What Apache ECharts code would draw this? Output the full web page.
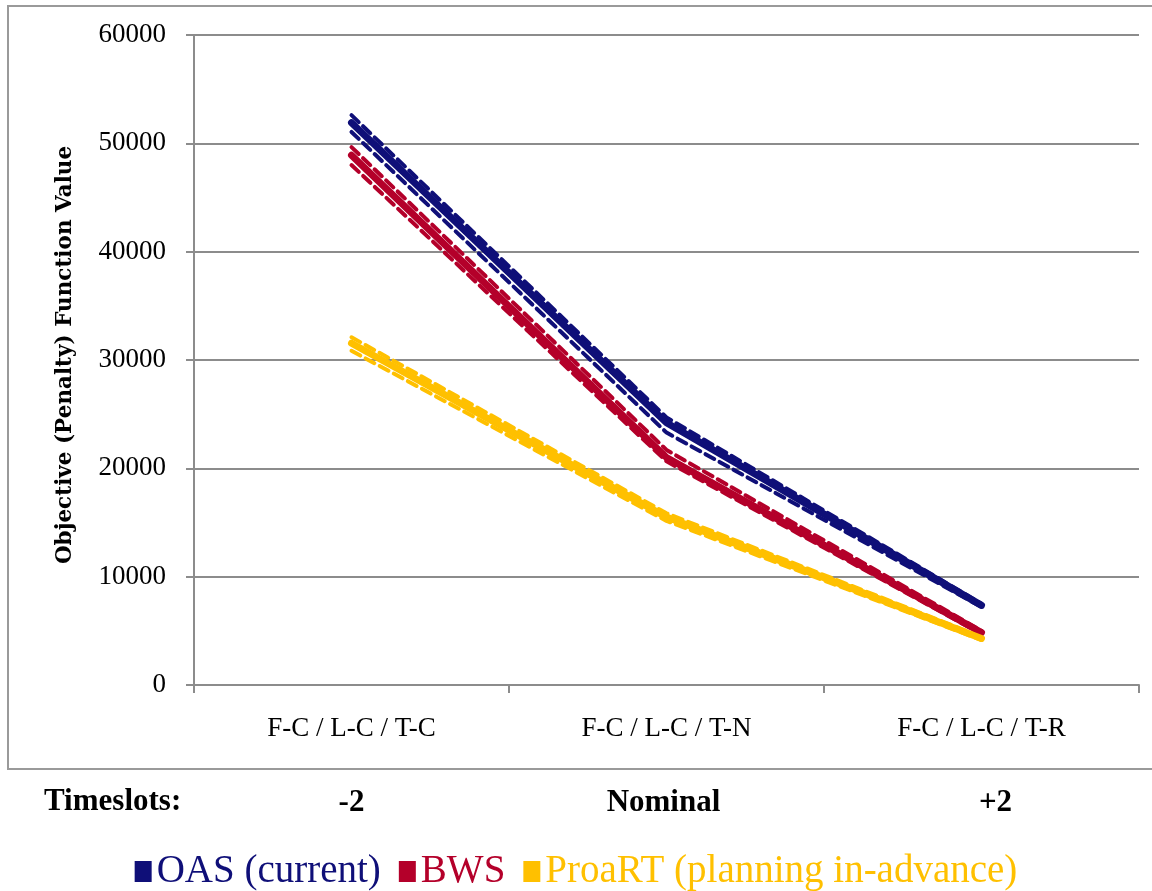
<!DOCTYPE html>
<html><head><meta charset="utf-8">
<script src="https://cdn.jsdelivr.net/npm/echarts@6/dist/echarts.min.js"></script>
<style>html,body{margin:0;padding:0;background:#fff}#c{width:1152px;height:891px}</style>
</head><body><div id="c"></div>
<script>
const categories = ['F-C / L-C / T-C', 'F-C / L-C / T-N', 'F-C / L-C / T-R'];
const timeslotLabels = ['-2', 'Nominal', '+2'];
const yTicks = [0, 10000, 20000, 30000, 40000, 50000, 60000];
const oasMain = [51900, 24200, 7350];
const oasUpper = [52600, 24700, 7500];
const oasLower = [51050, 23300, 7200];
const bwsMain = [48900, 21000, 4850];
const bwsUpper = [49650, 21700, 5000];
const bwsLower = [48000, 20650, 4700];
const proMain = [31550, 15500, 4300];
const proUpper = [32100, 15850, 4450];
const proLower = [30850, 15150, 4150];

const C_OAS = '#0f0f78', C_BWS = '#b4002a', C_PRO = '#ffc000';
const serif = '"Liberation Serif", "DejaVu Serif", serif';

function mainS(name, data, color) {
  return { name, type: 'line', data, symbol: 'none', z: 3,
    itemStyle: { color }, lineStyle: { color, width: 7, cap: 'round' } };
}
function dashS(data, color) {
  return { type: 'line', data, symbol: 'none', silent: true, z: 2,
    lineStyle: { color, width: 4, type: [10, 6], cap: 'round' } };
}

const chart = echarts.init(document.getElementById('c'));
const catX = [351.5, 666.5, 981.5];
chart.setOption({
  animation: false,
  grid: { left: 194, right: 13, top: 35, bottom: 206, containLabel: false },
  xAxis: {
    type: 'category', data: categories, boundaryGap: true,
    axisLine: { lineStyle: { color: '#8c8c8c', width: 2 } },
    axisTick: { show: true, length: 8, lineStyle: { color: '#8c8c8c', width: 2 } },
    axisLabel: { fontFamily: serif, fontSize: 27, color: '#000', margin: 30 }
  },
  yAxis: {
    type: 'value', min: yTicks[0], max: yTicks[yTicks.length - 1], interval: 10000,
    name: 'Objective (Penalty) Function Value', nameLocation: 'middle', nameRotate: 90, nameGap: 118,
    nameTextStyle: { fontFamily: '"DejaVu Serif", serif', fontSize: 21.5, fontWeight: 'bold', color: '#000', padding: [0, 0, 0, 10] },
    axisLine: { show: true, lineStyle: { color: '#8c8c8c', width: 2 } },
    axisTick: { show: true, length: 8, lineStyle: { color: '#8c8c8c', width: 2 } },
    axisLabel: { fontFamily: serif, fontSize: 27, color: '#000', margin: 28, formatter: v => String(v) },
    splitLine: { lineStyle: { color: '#8c8c8c', width: 2 } }
  },
  legend: {
    data: [
      { name: 'OAS (current)', textStyle: { color: C_OAS } },
      { name: 'BWS', textStyle: { color: C_BWS } },
      { name: 'ProaRT (planning in-advance)', textStyle: { color: C_PRO } }
    ],
    left: 'center', top: 847, icon: 'rect', itemWidth: 17, itemHeight: 21, itemGap: 18,
    textStyle: { fontFamily: serif, fontSize: 39 }
  },
  graphic: [
    { type: 'rect', shape: { x: 8, y: 6, width: 1160, height: 763 }, style: { fill: 'none', stroke: '#9a9a9a', lineWidth: 2 }, silent: true },
    { type: 'text', left: 44, top: 786, style: { text: 'Timeslots:', font: 'bold 31px ' + serif, fill: '#000' } }
  ].concat(timeslotLabels.map((t, i) => ({
    type: 'text', x: catX[i] + (i === 2 ? 14 : (i === 1 ? -3 : 0)), y: 803,
    style: { text: t, font: 'bold 31px ' + serif, fill: '#000', align: 'center', verticalAlign: 'middle' }
  }))),
  series: [
    dashS(oasUpper, C_OAS), dashS(oasLower, C_OAS), mainS('OAS (current)', oasMain, C_OAS),
    dashS(bwsUpper, C_BWS), dashS(bwsLower, C_BWS), mainS('BWS', bwsMain, C_BWS),
    dashS(proUpper, C_PRO), dashS(proLower, C_PRO), mainS('ProaRT (planning in-advance)', proMain, C_PRO)
  ]
});
</script></body></html>
